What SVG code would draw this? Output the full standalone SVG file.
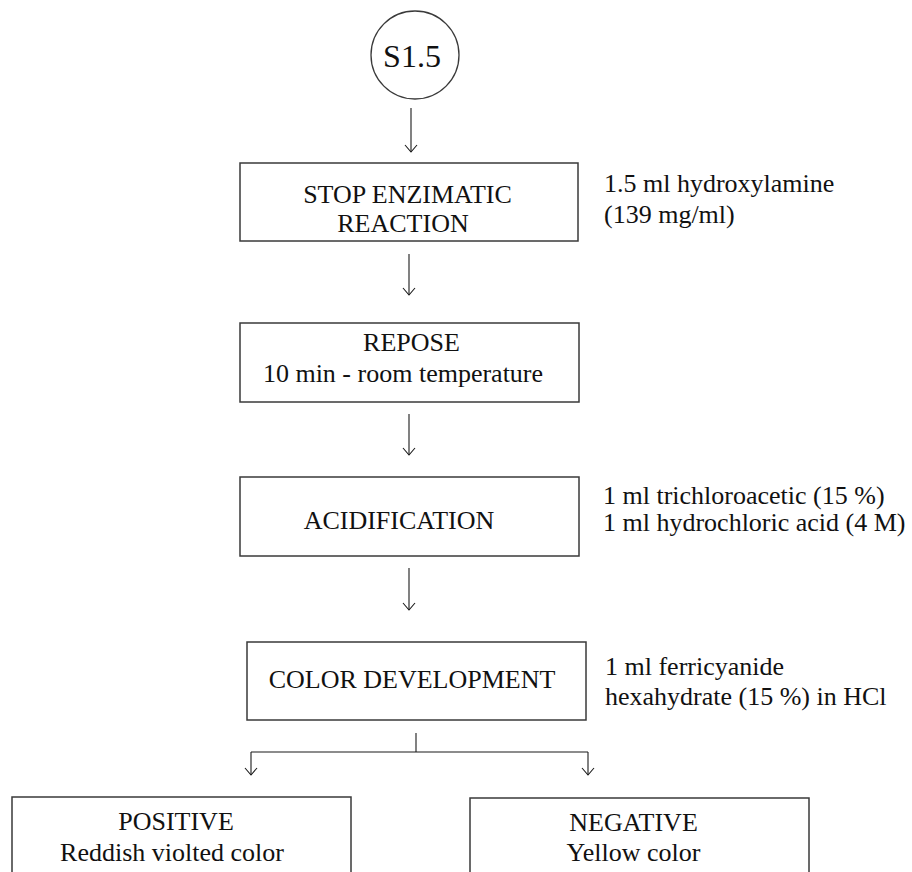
<svg xmlns="http://www.w3.org/2000/svg" width="912" height="872" viewBox="0 0 912 872">
  <defs>
    <style>
      .box { fill: #ffffff; stroke: #3a3a3a; stroke-width: 1.5; }
      .wire { fill: none; stroke: #1a1a1a; stroke-width: 1.1; }
      .t { font-family: "Liberation Serif", "Times New Roman", serif; font-size: 26px; fill: #111111; }
      .c { text-anchor: middle; }
    </style>
    <marker id="vhead" viewBox="0 0 10 14" refX="8" refY="7" markerWidth="10" markerHeight="14" markerUnits="userSpaceOnUse" orient="auto">
      <path d="M1,1 L8,7 L1,13" fill="none" stroke="#1a1a1a" stroke-width="1.1"/>
    </marker>
  </defs>

  <rect x="0" y="0" width="912" height="872" fill="#ffffff"/>

  <!-- connectors -->
  <g id="connectors">
    <line class="wire" x1="411" y1="108" x2="411" y2="152" marker-end="url(#vhead)"/>
    <line class="wire" x1="409" y1="254" x2="409" y2="295" marker-end="url(#vhead)"/>
    <line class="wire" x1="409" y1="414" x2="409" y2="455" marker-end="url(#vhead)"/>
    <line class="wire" x1="409" y1="568" x2="409" y2="610" marker-end="url(#vhead)"/>
    <line class="wire" x1="416" y1="733" x2="416" y2="752"/>
    <line class="wire" x1="251" y1="752" x2="588" y2="752"/>
    <line class="wire" x1="251" y1="752" x2="251" y2="775" marker-end="url(#vhead)"/>
    <line class="wire" x1="588" y1="752" x2="588" y2="775" marker-end="url(#vhead)"/>
  </g>

  <!-- start marker -->
  <g id="start">
    <circle cx="415" cy="55" r="44" fill="#ffffff" stroke="#3a3a3a" stroke-width="1.3"/>
    <text class="t c" x="412" y="67" style="font-size:32px">S1.5</text>
  </g>

  <g id="stop">
    <rect class="box" x="240" y="163" width="338" height="78"/>
    <text class="t c" x="407.5" y="203">STOP ENZIMATIC</text>
    <text class="t c" x="403" y="232">REACTION</text>
  </g>
  <g id="stop-note">
    <text class="t" x="604" y="192">1.5 ml hydroxylamine</text>
    <text class="t" x="604" y="223">(139 mg/ml)</text>
  </g>

  <g id="repose">
    <rect class="box" x="240" y="323" width="339" height="79"/>
    <text class="t c" x="411.5" y="351">REPOSE</text>
    <text class="t c" x="403" y="382">10 min - room temperature</text>
  </g>

  <g id="acidification">
    <rect class="box" x="240" y="477" width="339" height="79"/>
    <text class="t c" x="399" y="529">ACIDIFICATION</text>
  </g>
  <g id="acidification-note">
    <text class="t" x="603" y="504">1 ml trichloroacetic (15 %)</text>
    <text class="t" x="603" y="531">1 ml hydrochloric acid (4 M)</text>
  </g>

  <g id="color-development">
    <rect class="box" x="247" y="642" width="339" height="78"/>
    <text class="t c" x="412" y="688">COLOR DEVELOPMENT</text>
  </g>
  <g id="color-development-note">
    <text class="t" x="605" y="675">1 ml ferricyanide</text>
    <text class="t" x="605" y="705">hexahydrate (15 %) in HCl</text>
  </g>

  <g id="positive">
    <rect class="box" x="12" y="797" width="339" height="100"/>
    <text class="t c" x="176" y="830">POSITIVE</text>
    <text class="t c" x="172" y="861">Reddish violted color</text>
  </g>

  <g id="negative">
    <rect class="box" x="470" y="798" width="339" height="100"/>
    <text class="t c" x="633.5" y="831">NEGATIVE</text>
    <text class="t c" x="633.5" y="861">Yellow color</text>
  </g>
</svg>
